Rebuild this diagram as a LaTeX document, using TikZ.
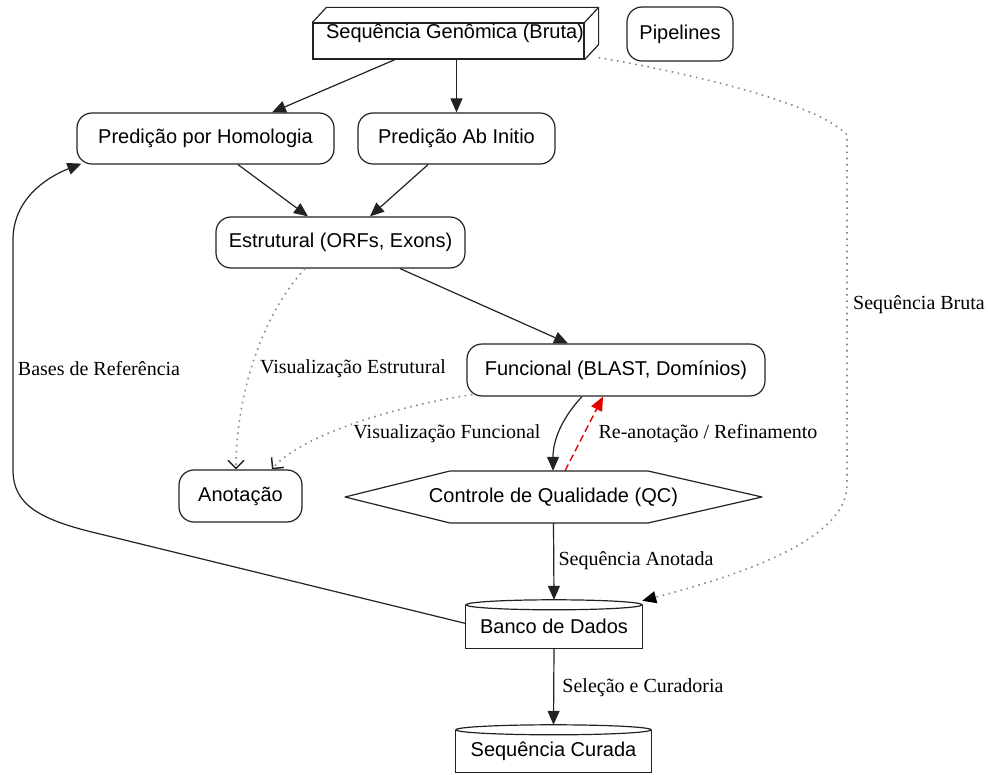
\documentclass[tikz,border=0pt]{standalone}
\usepackage{fontspec}
\setmainfont{Liberation Serif}
\newfontfamily\nsans{Liberation Sans}
\usetikzlibrary{arrows.meta}
\definecolor{edge}{HTML}{222222}
\definecolor{dotc}{HTML}{8A8A8A}
\begin{document}
\begin{tikzpicture}[x=1pt,y=-1pt,
  box/.style={draw=edge, line width=1.2pt, rounded corners=15pt, fill=white, inner sep=0pt,
     font=\nsans\fontsize{20pt}{24pt}\selectfont, align=center},
  plain/.style={inner sep=0pt, font=\nsans\fontsize{20pt}{24pt}\selectfont},
  lbl/.style={inner sep=1pt, font=\fontsize{20pt}{24pt}\selectfont, fill=white},
  lbln/.style={inner sep=1pt, font=\fontsize{20pt}{24pt}\selectfont},
  arr/.style={draw=edge, line width=1.2pt, -{Triangle[length=14pt,width=12pt]}},
  dotarr/.style={draw=dotc, line width=1.6pt, dash pattern=on 1.6pt off 4.6pt, -{Straight Barb[length=8pt,width=16pt,line width=1.5pt,color=edge]}},
  dotarrf/.style={draw=dotc, line width=1.6pt, dash pattern=on 1.6pt off 4.6pt, -{Triangle[length=14pt,width=12pt,color=black]}},
  redarr/.style={draw=red!90!black, line width=1.4pt, dash pattern=on 7pt off 4pt, -{Triangle[length=14pt,width=12pt]}},
]
\useasboundingbox (0,0) rectangle (988,775);

% --- cuboid: Sequencia Genomica ---
\node[draw=edge, line width=1.2pt, minimum width=271pt, minimum height=36pt, inner sep=0pt, fill=white] (seq) at (448.5,41) {};
\draw[edge, line width=1.2pt, line join=round] (seq.north west) -- ++(14,-15) -- ([shift={(14pt,15pt)}]seq.north east) -- ([shift={(14pt,15pt)}]seq.south east) -- (seq.south east);
\draw[edge, line width=1.2pt] (seq.north east) -- ++(14,-15);
\node[plain] (seqt) at (455,33) {Sequência Genômica (Bruta)};

\node[box, minimum width=106pt, minimum height=54pt] (pipe) at (680,34) {Pipelines};

\node[box, minimum width=257pt, minimum height=51pt] (homol) at (205.5,138.5) {Predição por Homologia};
\node[box, minimum width=197pt, minimum height=51pt] (abin) at (456.5,138.5) {Predição Ab Initio};
\node[box, minimum width=249pt, minimum height=51pt] (estr) at (340.5,242.5) {Estrutural (ORFs, Exons)};
\node[box, minimum width=298pt, minimum height=52pt] (func) at (616,370) {Funcional (BLAST, Domínios)};
\node[box, minimum width=123pt, minimum height=52pt] (anot) at (240.5,496) {Anotação};

% --- hexagon QC ---
\node[plain, minimum width=417pt, minimum height=52pt] (qc) at (553.5,497) {Controle de Qualidade (QC)};
\draw[edge, line width=1.2pt, line join=round] (345,497) -- (450,471) -- (648,471) -- (762,497) -- (648,523) -- (450,523) -- cycle;

% --- cylinders ---
\node[plain, minimum width=176pt, minimum height=43pt] (banco) at (554,626.5) {Banco de Dados};
\draw[edge, line width=1.2pt] (banco.north west) -- (banco.south west) -- (banco.south east) -- (banco.north east);
\draw[edge, line width=1.2pt] (banco.north) ellipse (88 and 5);
\node[plain, minimum width=195pt, minimum height=42pt] (cur) at (553.5,751) {Sequência Curada};
\draw[edge, line width=1.2pt] (cur.north west) -- (cur.south west) -- (cur.south east) -- (cur.north east);
\draw[edge, line width=1.2pt] (cur.north) ellipse (97.5 and 5);

% --- connectors ---
\draw[arr] ([xshift=-53.5pt]seq.south) -- ([xshift=66.5pt]homol.north);
\draw[arr] ([xshift=8pt]seq.south) -- (abin.north);
\draw[arr] ([xshift=32.5pt]homol.south) -- ([xshift=-32.5pt]estr.north);
\draw[arr] ([xshift=-28.5pt]abin.south) -- ([xshift=29.5pt]estr.north);
\draw[arr] ([xshift=59.5pt]estr.south) -- ([xshift=-48pt]func.north);

\draw[dotarr] ([xshift=-35.5pt]estr.south) .. controls (262,315) and (236,395) .. ([xshift=-4.5pt]anot.north);
\draw[dotarr] ([xshift=6pt,yshift=2pt]func.south west) .. controls (400,405) and (300,435) .. ([xshift=31.5pt]anot.north);

\draw[arr] ([xshift=-34pt]func.south) .. controls (562,418) and (553,440) .. ([xshift=-0.5pt]qc.north);
\draw[redarr] ([xshift=11.5pt]qc.north) -- ([xshift=-13pt]func.south);

\draw[arr] (qc.south) -- ([yshift=5pt]banco.north);
\draw[arr] (banco.south) -- ([yshift=5pt]cur.north);

\draw[arr] ([yshift=3pt]banco.west) -- (100,534) .. controls (40,520) and (13,505) .. (13,470) -- (13,240) .. controls (13,200) and (45,178) .. ([xshift=5pt,yshift=1pt]homol.south west);

\draw[dotarrf] ([xshift=14pt,yshift=2pt]seq.south east) .. controls (700,75) and (820,105) .. (847,135) -- (847,485) .. controls (847,540) and (740,575) .. ([yshift=4pt]banco.north east);

% --- labels ---
\node[lbln] (l1) at (353,369) {Visualização Estrutural};
\node[lbl] (l2) at (447,434) {Visualização Funcional};
\node[lbln] (l3) at (99,369) {Bases de Referência};
\node[lbln, anchor=west] (l4) at (852,305) {Sequência Bruta};
\node[lbln] (l5) at (708,434) {Re-anotação / Refinamento};
\node[lbln] (l6) at (636,561) {Sequência Anotada};
\node[lbln] (l7) at (643,688) {Seleção e Curadoria};
\end{tikzpicture}
\end{document}
